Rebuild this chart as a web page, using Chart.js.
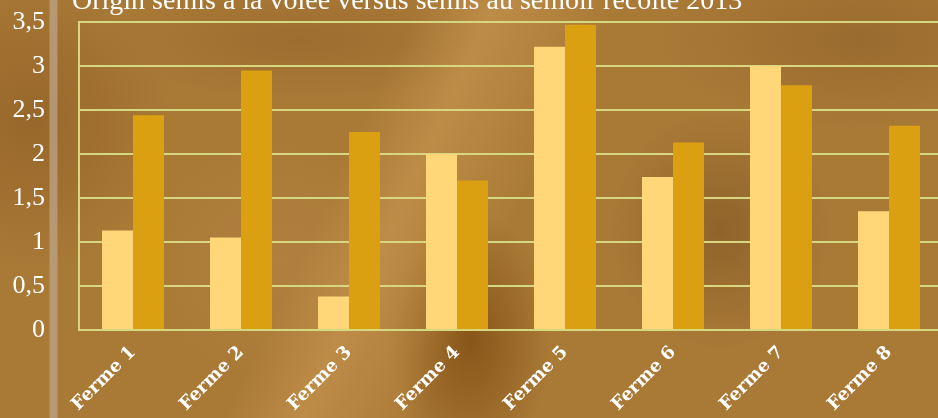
<!DOCTYPE html>
<html>
<head>
<meta charset="utf-8">
<script src="https://cdn.jsdelivr.net/npm/chart.js@4/dist/chart.umd.min.js"></script>
<style>
  html, body { margin: 0; padding: 0; width: 938px; height: 418px; overflow: hidden; }
  body {
    position: relative;
    background:
      linear-gradient(90deg, rgba(0,0,0,0) 49px, rgba(185,165,135,0.75) 50px, rgba(185,165,135,0.75) 57px, rgba(0,0,0,0) 58px),
      linear-gradient(115deg, rgba(200,150,80,0) 380px, rgba(205,155,85,0.55) 450px, rgba(200,150,80,0) 560px),
      radial-gradient(ellipse 80px 130px at 470px 340px, rgba(130,80,20,0.85), rgba(130,80,20,0) 100%),
      radial-gradient(ellipse 110px 120px at 720px 230px, rgba(125,85,35,0.6), rgba(125,85,35,0) 100%),
      radial-gradient(ellipse 200px 90px at 860px 40px, rgba(140,95,40,0.55), rgba(140,95,40,0) 100%),
      radial-gradient(ellipse 140px 150px at 30px 120px, rgba(140,90,35,0.6), rgba(140,90,35,0) 100%),
      radial-gradient(ellipse 200px 60px at 300px 40px, rgba(140,95,40,0.45), rgba(140,95,40,0) 100%),
      radial-gradient(ellipse 140px 120px at 280px 260px, rgba(185,135,70,0.5), rgba(185,135,70,0) 100%),
      #a97936;
  }
  #wrap { position: absolute; left: 0; top: -20px; width: 950px; height: 438px; }
</style>
</head>
<body>
<div id="wrap"><canvas id="fermeChart"></canvas></div>
<script>
const fermes = ['Ferme 1', 'Ferme 2', 'Ferme 3', 'Ferme 4', 'Ferme 5', 'Ferme 6', 'Ferme 7', 'Ferme 8'];
const voleeValues = [1.13, 1.05, 0.38, 2.0, 3.22, 1.74, 3.0, 1.35];
const semoirValues = [2.44, 2.95, 2.25, 1.70, 3.47, 2.13, 2.78, 2.32];
const yTickLabels = ['0', '0,5', '1', '1,5', '2', '2,5', '3', '3,5'];
const chartTitle = 'Origin semis à la volée versus semis au semoir récolte 2013';

const gridColor = '#d8d67e';

// titre dessiné à la main (il dépasse en haut)
const titlePlugin = {
    id: 'topTitle',
    afterDraw(chart) {
        const ctx = chart.ctx;
        ctx.save();
        ctx.fillStyle = '#ffffff';
        ctx.font = '28px "Liberation Serif", serif';
        ctx.textBaseline = 'alphabetic';
        ctx.fillText(chartTitle, 72, 29);
        ctx.restore();
    }
};

window.addEventListener('DOMContentLoaded', () => {
    const ctx = document.getElementById('fermeChart').getContext('2d');
    new Chart(ctx, {
        type: 'bar',
        data: {
            labels: fermes,
            datasets: [{
                label: 'Semis à la volée',
                data: voleeValues,
                backgroundColor: '#ffd778',
                borderWidth: 0
            }, {
                label: 'Semis au semoir',
                data: semoirValues,
                backgroundColor: '#daa012',
                borderWidth: 0
            }]
        },
        options: {
            responsive: true,
            maintainAspectRatio: false,
            animation: false,
            layout: { padding: { top: 42, right: 7, left: 0, bottom: 0 } },
            categoryPercentage: 0.574,
            barPercentage: 1,
            plugins: {
                legend: { display: false },
                tooltip: { enabled: false }
            },
            scales: {
                x: {
                    grid: { display: false, drawTicks: false },
                    border: { display: false },
                    afterFit(scale) {
                        scale.height = 88;
                        scale.paddingLeft = 0;
                        scale.paddingRight = 0;
                    },
                    ticks: {
                        color: '#ffffff',
                        font: { family: '"DejaVu Serif", serif', size: 18, weight: 'bold' },
                        minRotation: 45,
                        maxRotation: 45,
                        padding: 12,
                        autoSkip: false
                    }
                },
                y: {
                    min: 0,
                    max: 3.5,
                    afterFit(scale) {
                        scale.width = 79;
                        scale.paddingTop = 0;
                        scale.paddingBottom = 0;
                    },
                    grid: { color: gridColor, lineWidth: 2, drawTicks: false },
                    border: { display: true, color: gridColor, width: 2 },
                    ticks: {
                        stepSize: 0.5,
                        color: '#ffffff',
                        padding: 34,
                        font: { family: '"Liberation Serif", serif', size: 26 },
                        callback: (v, i) => yTickLabels[i]
                    }
                }
            }
        },
        plugins: [titlePlugin]
    });
});
</script>
</body>
</html>
